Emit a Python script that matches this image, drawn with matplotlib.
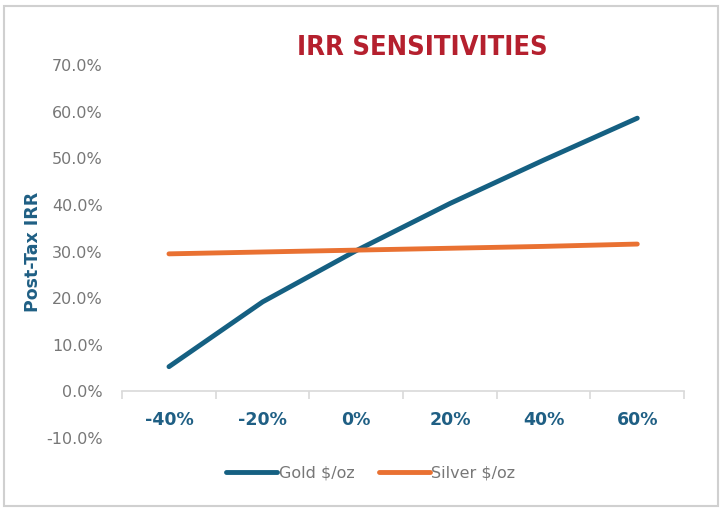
import matplotlib.pyplot as plt
from matplotlib.patches import Rectangle
from matplotlib.ticker import PercentFormatter

plt.rcParams['axes.unicode_minus'] = False

categories = ['-40%', '-20%', '0%', '20%', '40%', '60%']
gold_irr = [5.3, 19.2, 30.2, 40.3, 49.6, 58.6]
silver_irr = [29.5, 29.9, 30.3, 30.7, 31.1, 31.6]

gold_col = '#156082'
silver_col = '#E97132'
label_col = '#1F5F84'
grey = '#777777'

fig = plt.figure(figsize=(7.27, 5.12), dpi=100)
ax = fig.add_axes([0.168, 0.1445, 0.773, 0.7285])

x = range(len(categories))
ax.plot(x, gold_irr, color=gold_col, lw=3.5, solid_capstyle='round', label='Gold $/oz')
ax.plot(x, silver_irr, color=silver_col, lw=3.5, solid_capstyle='round', label='Silver $/oz')

ax.set_xlim(-0.5, len(categories) - 0.5)
ax.set_ylim(-10, 70)
ax.set_yticks(range(-10, 71, 10))
ax.yaxis.set_major_formatter(PercentFormatter(decimals=1))

for s in ['top', 'right', 'left']:
    ax.spines[s].set_visible(False)
ax.spines['bottom'].set_position(('data', 0))
ax.spines['bottom'].set_color('#d9d9d9')
ax.spines['bottom'].set_linewidth(1.2)

# tick marks between categories, labels centred on categories
ax.set_xticks([i - 0.5 for i in range(len(categories) + 1)])
ax.set_xticklabels([])
ax.set_xticks(list(x), minor=True)
ax.set_xticklabels(categories, minor=True, fontsize=12.5, fontweight='bold', color=label_col)
ax.tick_params(axis='x', which='major', length=6, color='#d9d9d9', width=1.2)
ax.tick_params(axis='x', which='minor', length=0, pad=14)
ax.tick_params(axis='y', length=0, labelsize=11.5, labelcolor=grey, pad=14)

ax.set_ylabel('Post-Tax IRR', fontsize=12.5, fontweight='bold', color=label_col, labelpad=3)

fig.text(0.581, 0.906, 'IRR SENSITIVITIES', ha='center', va='center', fontsize=19.5,
         fontweight='bold', color='#B5202E', family='DejaVu Sans', fontstretch='condensed')

leg = ax.legend(loc='center', bbox_to_anchor=(0.51, 0.076), bbox_transform=fig.transFigure,
                ncol=2, frameon=False, fontsize=11.5, handlelength=3.2, handletextpad=0.1,
                columnspacing=1.5)
for t in leg.get_texts():
    t.set_color(grey)

fig.patches.append(Rectangle((0.006, 0.012), 0.982, 0.976, transform=fig.transFigure,
                             fill=False, edgecolor='#d0d0d0', lw=1.5))

fig.savefig('out.png', dpi=100)
